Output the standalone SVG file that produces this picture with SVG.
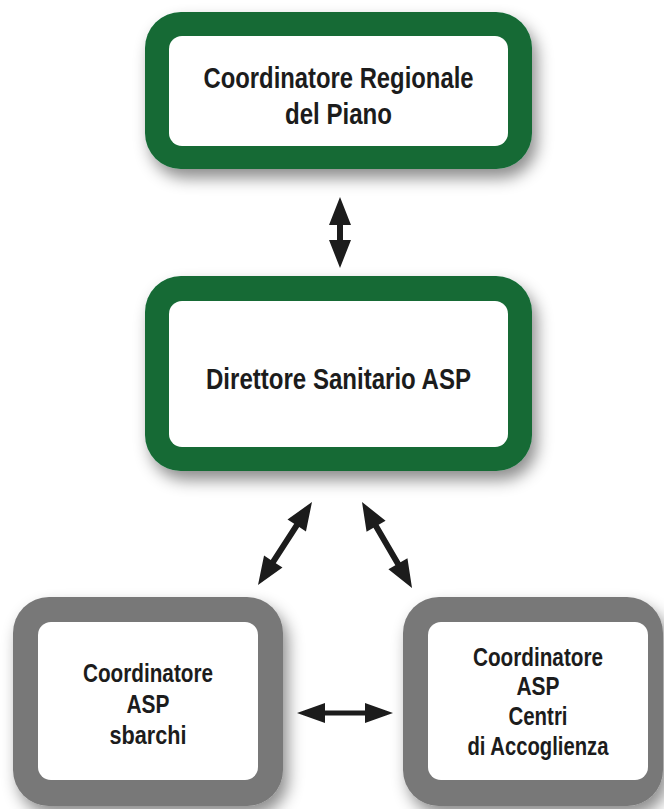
<svg xmlns="http://www.w3.org/2000/svg" width="664" height="809" viewBox="0 0 664 809">
<style>
.txt{font-family:"Liberation Sans",Arial,sans-serif;font-weight:bold;fill:#1c1c1c;text-anchor:middle}
.big{font-size:29px}
.small{font-size:25px}
.green{fill:#126b35}
.gray{fill:#787878}
.inner{fill:#ffffff}
.arrow{fill:#1c1c1c}
</style>
<defs>
<filter id="shadow" x="-20%" y="-20%" width="140%" height="150%">
<feDropShadow dx="5" dy="9" stdDeviation="8" flood-color="#000" flood-opacity="0.45"/>
</filter>
</defs>
<rect width="664" height="809" fill="#ffffff"/>
<g id="node-coordinatore-regionale">
<rect class="green" x="145" y="12" width="387" height="157" rx="36" filter="url(#shadow)"/>
<rect class="inner" x="169" y="36" width="339" height="110" rx="13"/>
<text class="txt big" x="338.5" y="88" textLength="270" lengthAdjust="spacingAndGlyphs">Coordinatore Regionale</text>
<text class="txt big" x="338.5" y="124" textLength="107" lengthAdjust="spacingAndGlyphs">del Piano</text>
</g>
<g id="node-direttore-sanitario">
<rect class="green" x="145" y="276" width="387" height="195" rx="36" filter="url(#shadow)"/>
<rect class="inner" x="169" y="301" width="339" height="146" rx="13"/>
<text class="txt big" x="338.5" y="389" textLength="265" lengthAdjust="spacingAndGlyphs">Direttore Sanitario ASP</text>
</g>
<g id="node-coordinatore-sbarchi">
<rect class="gray" x="13" y="597" width="270" height="209" rx="36" filter="url(#shadow)"/>
<rect class="inner" x="38" y="622" width="220" height="158" rx="13"/>
<text class="txt small" x="148" y="682" textLength="130" lengthAdjust="spacingAndGlyphs">Coordinatore</text>
<text class="txt small" x="148" y="713" textLength="43" lengthAdjust="spacingAndGlyphs">ASP</text>
<text class="txt small" x="148" y="744" textLength="77" lengthAdjust="spacingAndGlyphs">sbarchi</text>
</g>
<g id="node-coordinatore-centri">
<rect class="gray" x="403" y="597" width="260" height="209" rx="36" filter="url(#shadow)"/>
<rect class="inner" x="428" y="622" width="220" height="158" rx="13"/>
<text class="txt small" x="538" y="666" textLength="130" lengthAdjust="spacingAndGlyphs">Coordinatore</text>
<text class="txt small" x="538" y="695" textLength="43" lengthAdjust="spacingAndGlyphs">ASP</text>
<text class="txt small" x="538" y="725" textLength="59" lengthAdjust="spacingAndGlyphs">Centri</text>
<text class="txt small" x="538" y="755" textLength="141" lengthAdjust="spacingAndGlyphs">di Accoglienza</text>
</g>
<g id="connectors">
<polygon class="arrow" transform="translate(340,197) rotate(90)" points="0,0 28,-11 28,-3 43,-3 43,-11 71,0 43,11 43,3 28,3 28,11"/>
<polygon class="arrow" transform="translate(258,585) rotate(-56.95)" points="0,0 28,-11 28,-3 71,-3 71,-11 99,0 71,11 71,3 28,3 28,11"/>
<polygon class="arrow" transform="translate(362,502) rotate(59.83)" points="0,0 28,-11 28,-3 71.5,-3 71.5,-11 99.5,0 71.5,11 71.5,3 28,3 28,11"/>
<polygon class="arrow" transform="translate(297,713)" points="0,0 28,-10 28,-2.5 68,-2.5 68,-10 96,0 68,10 68,2.5 28,2.5 28,10"/>
</g>
</svg>
